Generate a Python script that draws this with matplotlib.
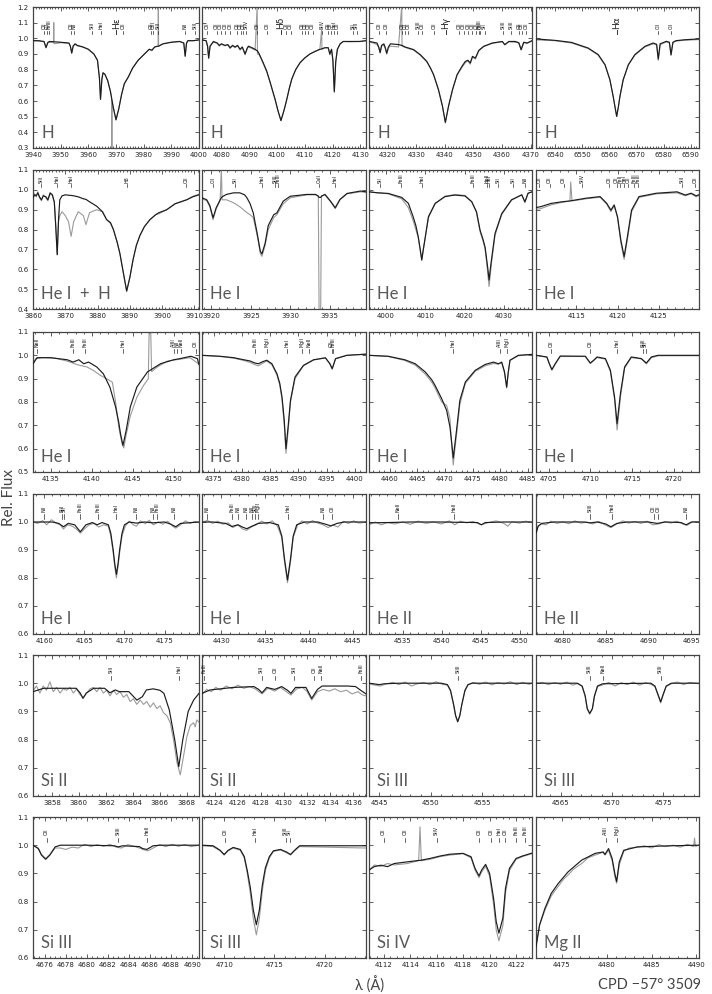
import matplotlib
matplotlib.use('Agg')
import matplotlib.pyplot as plt
from matplotlib.ticker import MultipleLocator, AutoMinorLocator

# ---------------- data ----------------
# row 1 : Balmer lines
p11_wl = [3940, 3942, 3944, 3944.7, 3945.4, 3946, 3947.4, 3947.5, 3947.6, 3950, 3953, 3953.5, 3954.0, 3954.5,
          3955.2, 3956, 3958, 3960, 3962, 3963.3, 3964.0, 3964.4, 3964.9, 3965.3, 3966, 3967, 3968, 3968.4,
          3968.5, 3968.6, 3969, 3970, 3971, 3972, 3973, 3974.5, 3976, 3978, 3980, 3982, 3983, 3983.5, 3984,
          3985.2, 3985.3, 3985.4, 3987, 3990, 3993, 3994.5, 3995.0, 3995.5, 3996, 3998, 4000]
p11_mod = [0.985, 0.985, 0.98, 0.94, 0.975, 0.98, 0.978, 0.978, 0.978, 0.975, 0.97, 0.95, 0.905, 0.95,
           0.965, 0.955, 0.945, 0.93, 0.90, 0.86, 0.75, 0.61, 0.74, 0.78, 0.77, 0.73, 0.66, 0.62,
           0.61, 0.60, 0.56, 0.48, 0.55, 0.64, 0.71, 0.755, 0.81, 0.86, 0.895, 0.93, 0.925, 0.935, 0.945,
           0.95, 0.95, 0.95, 0.965, 0.975, 0.98, 0.97, 0.885, 0.97, 0.985, 0.985, 0.99]
p11_obs = [0.985, 0.983, 0.978, 0.945, 0.972, 0.975, 0.975, 1.10, 0.965, 0.972, 0.968, 0.95, 0.91, 0.95,
           0.962, 0.952, 0.945, 0.93, 0.90, 0.86, 0.75, 0.615, 0.74, 0.78, 0.77, 0.73, 0.66, 0.62,
           0.29, 0.60, 0.56, 0.48, 0.55, 0.64, 0.71, 0.755, 0.81, 0.86, 0.895, 0.93, 0.92, 0.935, 0.945,
           0.95, 1.21, 0.95, 0.965, 0.975, 0.98, 0.97, 0.89, 0.97, 0.985, 0.985, 0.99]
p11_lines = [(3944.0, 'OII'), (3945.0, 'CII'), (3945.8, 'FeIII'), (3953.8, 'OII'), (3954.7, 'NII'),
             (3961.5, 'SiII'), (3964.7, 'HeI'), (3972.7, 'OII'), (3982.7, 'OII'), (3983.5, 'OIII'),
             (3985.3, 'SiII'), (3995.0, 'NII'), (3998.6, 'SiII')]
p11_balmer = (3970.07, 'Hε')

p12_wl = [4073, 4074.5, 4075.0, 4075.4, 4075.9, 4077.1, 4078.5, 4079.2, 4080, 4081.3, 4082.3, 4083.1, 4084,
          4084.9, 4085.8, 4086.7, 4087.5, 4088.5, 4089.2, 4089.7, 4091, 4092.1, 4092.85, 4092.95, 4093.6,
          4095, 4096.3, 4097.5, 4098.4, 4099.3, 4100.3, 4101.4, 4102.5, 4103.5, 4104.4, 4105.3, 4106.7,
          4108.3, 4110, 4111.8, 4113.5, 4115.4, 4116.05, 4116.15, 4117.2, 4118.4, 4119.0, 4119.6, 4120.1,
          4120.6, 4121.1, 4121.7, 4122.7, 4123.8, 4126, 4129.8, 4132]
p12_mod = [0.99, 0.985, 0.95, 0.875, 0.95, 0.98, 0.97, 0.955, 0.965, 0.955, 0.96, 0.94, 0.955,
           0.945, 0.955, 0.93, 0.945, 0.9, 0.935, 0.95, 0.94, 0.93, 0.92, 0.92, 0.9,
           0.845, 0.79, 0.72, 0.665, 0.61, 0.54, 0.475, 0.54, 0.61, 0.68, 0.74, 0.8,
           0.845, 0.875, 0.9, 0.915, 0.93, 0.932, 0.933, 0.94, 0.94, 0.9, 0.93, 0.86,
           0.66, 0.85, 0.93, 0.965, 0.98, 0.98, 0.98, 0.985]
p12_obs = [0.99, 0.983, 0.95, 0.87, 0.95, 0.975, 0.968, 0.95, 0.962, 0.952, 0.958, 0.935, 0.952,
           0.94, 0.952, 0.925, 0.94, 0.895, 0.93, 0.945, 0.935, 0.925, 1.21, 0.90, 0.895,
           0.84, 0.785, 0.72, 0.665, 0.61, 0.54, 0.475, 0.54, 0.61, 0.68, 0.74, 0.8,
           0.845, 0.875, 0.9, 0.915, 0.93, 1.06, 0.93, 0.94, 0.94, 0.895, 0.93, 0.855,
           0.655, 0.845, 0.93, 0.965, 0.98, 0.978, 0.98, 0.985]
p12_lines = [(4074.9, 'OII'), (4078.3, 'OII'), (4079.7, 'OII'), (4081.3, 'OII'), (4083.1, 'OII'),
             (4085.7, 'OII'), (4086.9, 'OII'), (4087.9, 'OII'), (4088.9, 'SiIV'), (4092.9, 'OII'),
             (4096.3, 'OII'), (4103.2, 'OII'), (4104.9, 'OII'), (4108.9, 'OII'), (4110.1, 'OII'),
             (4111.2, 'OII'), (4112.8, 'OII'), (4116.1, 'SiIV'), (4118.4, 'OII'), (4119.3, 'OII'),
             (4120.6, 'HeI'), (4121.5, 'OII'), (4127.4, 'SII'), (4128.6, 'SiII')]
p12_balmer = (4101.4, 'Hδ')

p13_wl = [4313.5, 4315, 4316.3, 4316.9, 4317.4, 4317.9, 4318.7, 4319.2, 4319.7, 4320.3, 4321, 4323.8,
          4324.95, 4325.05, 4326.1, 4329.1, 4331.4, 4332.6, 4333.7, 4335, 4336.1, 4337.8, 4339.2, 4340.2,
          4341.3, 4342.7, 4344.3, 4346, 4347.2, 4348.1, 4348.9, 4349.7, 4350.7, 4351.9, 4353.6, 4356.6,
          4360.1, 4361.0, 4362.4, 4364.7, 4365.9, 4366.7, 4367.6, 4368.8, 4370.5]
p13_mod = [0.98, 0.975, 0.97, 0.945, 0.91, 0.955, 0.965, 0.94, 0.905, 0.945, 0.965, 0.96,
           0.955, 0.955, 0.945, 0.928, 0.896, 0.874, 0.853, 0.81, 0.768, 0.672, 0.566, 0.464,
           0.566, 0.672, 0.768, 0.821, 0.853, 0.86, 0.843, 0.885, 0.874, 0.923, 0.949, 0.97,
           0.98, 0.96, 0.98, 0.98, 0.97, 0.928, 0.975, 0.97, 0.985]
p13_obs = [0.978, 0.97, 0.96, 0.94, 0.905, 0.95, 0.955, 0.935, 0.9, 0.94, 0.95, 0.945,
           1.21, 0.95, 0.942, 0.925, 0.893, 0.87, 0.85, 0.81, 0.765, 0.67, 0.565, 0.46,
           0.566, 0.672, 0.765, 0.815, 0.845, 0.855, 0.835, 0.88, 0.868, 0.92, 0.947, 0.968,
           0.978, 0.958, 0.978, 0.975, 0.975, 0.925, 0.972, 0.968, 0.983]
p13_lines = [(4317.1, 'OII'), (4319.6, 'OII'), (4325.0, 'OII'), (4326.1, 'CII'), (4327.3, 'OII'),
             (4330.8, 'SiIII'), (4332.0, 'OII'), (4336.4, 'OII'), (4345.1, 'OII'), (4346.6, 'OII'),
             (4348.1, 'OII'), (4349.5, 'OII'), (4350.9, 'OII'), (4351.9, 'FeIII'), (4352.4, 'OII'),
             (4353.9, 'SII'), (4360.3, 'SiIII'), (4363.2, 'SiIII'), (4365.9, 'OII'), (4366.9, 'OII'),
             (4368.5, 'OII')]
p13_balmer = (4340.3, 'Hγ')

p14_wl = [6533, 6540, 6546.1, 6552.2, 6555.9, 6558.4, 6560.2, 6561.4, 6562.1, 6562.7, 6563.3, 6563.9,
          6565.1, 6567, 6569.4, 6573.1, 6576.1, 6577.4, 6578.0, 6578.7, 6581, 6582.1, 6582.7, 6583.4,
          6584.5, 6587.8, 6593]
p14_mod = [0.996, 0.987, 0.974, 0.938, 0.896, 0.832, 0.736, 0.63, 0.56, 0.502, 0.56, 0.63,
           0.736, 0.832, 0.896, 0.949, 0.97, 0.962, 0.868, 0.965, 0.981, 0.975, 0.896, 0.975,
           0.985, 0.991, 0.996]
p14_obs = [0.99, 0.985, 0.97, 0.935, 0.893, 0.83, 0.735, 0.63, 0.56, 0.5, 0.56, 0.63,
           0.735, 0.83, 0.893, 0.945, 0.965, 0.958, 0.86, 0.96, 0.977, 0.97, 0.89, 0.972,
           0.982, 0.988, 0.992]
p14_lines = [(6578.05, 'CII'), (6582.8, 'CII')]
p14_balmer = (6562.7, 'Hα')

# row 2
p21_wl = [3860, 3860.5, 3861, 3861.5, 3862, 3862.6, 3863.2, 3864, 3864.6, 3865.3, 3866, 3866.6, 3867.0,
          3867.5, 3867.9, 3868.3, 3869, 3870, 3871, 3871.8, 3872.6, 3874, 3875.6, 3876.4, 3877.5, 3879.7,
          3881.5, 3882.8, 3884, 3884.9, 3886, 3886.9, 3888, 3889.0, 3890, 3891, 3892, 3893.1, 3894.5,
          3896.2, 3898, 3899, 3901.4, 3904, 3907.6, 3909.5, 3911.4]
p21_mod = [0.96, 0.975, 0.97, 0.985, 0.965, 0.95, 0.97, 0.965, 0.95, 0.985, 0.975, 0.94, 0.83,
           0.673, 0.85, 0.95, 0.97, 0.975, 0.973, 0.972, 0.97, 0.965, 0.955, 0.952, 0.94, 0.918,
           0.89, 0.85, 0.835, 0.80, 0.74, 0.68, 0.58, 0.49, 0.56, 0.65, 0.72, 0.77, 0.815,
           0.85, 0.875, 0.885, 0.9, 0.93, 0.95, 0.965, 0.975]
p21_obs = [0.955, 0.98, 0.965, 0.99, 0.96, 0.945, 0.975, 0.96, 0.945, 0.98, 0.97, 0.935, 0.83,
           0.675, 0.84, 0.87, 0.89, 0.87, 0.84, 0.766, 0.84, 0.89, 0.87, 0.825, 0.885, 0.9,
           0.89, 0.85, 0.83, 0.80, 0.74, 0.68, 0.58, 0.49, 0.56, 0.65, 0.72, 0.77, 0.815,
           0.85, 0.875, 0.88, 0.9, 0.93, 0.95, 0.968, 0.978]
p21_lines = [(3862.4, 'SiII'), (3867.5, 'HeI'), (3871.8, 'HeI'), (3889.05, 'H8'), (3907.5, 'OII')]

p22_wl = [3918.8, 3919.4, 3919.8, 3920.2, 3920.6, 3921.1, 3921.25, 3921.35, 3921.9, 3922.8, 3923.6, 3924.2,
          3924.5, 3924.9, 3925.3, 3925.8, 3926.2, 3926.4, 3926.8, 3927.2, 3927.9, 3928.3, 3929.1, 3930,
          3932.1, 3933.2, 3933.55, 3933.65, 3933.85, 3933.95, 3934.4, 3935.1, 3935.7, 3936.3, 3937.2,
          3938.9, 3939.6]
p22_mod = [0.96, 0.95, 0.92, 0.859, 0.91, 0.95, 0.96, 0.965, 0.977, 0.985, 0.985, 0.975,
           0.96, 0.93, 0.884, 0.78, 0.69, 0.678, 0.73, 0.82, 0.875, 0.884, 0.943, 0.968,
           0.977, 0.977, 0.968, 0.962, 0.962, 0.968, 0.977, 0.943, 0.91, 0.952, 0.982,
           0.994, 0.99]
p22_obs = [0.955, 0.945, 0.915, 0.85, 0.905, 0.945, 1.11, 0.95, 0.95, 0.935, 0.915, 0.895,
           0.885, 0.875, 0.86, 0.77, 0.68, 0.665, 0.72, 0.8, 0.86, 0.875, 0.93, 0.96,
           0.975, 0.975, 0.97, 0.38, 0.38, 0.97, 0.975, 0.94, 0.905, 0.95, 0.98,
           0.99, 0.988]
p22_lines = [(3920.2, 'CII'), (3923.0, 'SII'), (3926.4, 'HeI'), (3928.1, 'SiIII'), (3928.4, 'FeIII'),
             (3933.7, 'CaII'), (3935.7, 'HeI')]

p23_wl = [3995.7, 3998, 4000.6, 4004, 4005.7, 4006.9, 4007.6, 4008.2, 4008.7, 4009.1, 4009.5, 4009.9,
          4010.8, 4012.5, 4015, 4017.5, 4020.1, 4021.8, 4023, 4023.9, 4024.7, 4025.2, 4025.6, 4025.9,
          4026.2, 4026.5, 4026.8, 4027.7, 4029.4, 4031.9, 4034.5, 4035.3, 4036.1, 4037.1]
p23_mod = [0.99, 0.985, 0.982, 0.962, 0.932, 0.865, 0.82, 0.765, 0.7, 0.647, 0.7, 0.75,
           0.865, 0.932, 0.966, 0.974, 0.969, 0.94, 0.89, 0.798, 0.748, 0.71, 0.647, 0.6,
           0.546, 0.6, 0.647, 0.78, 0.88, 0.95, 0.975, 0.94, 0.983, 0.99]
p23_obs = [0.99, 0.985, 0.98, 0.955, 0.91, 0.845, 0.8, 0.76, 0.7, 0.645, 0.7, 0.75,
           0.86, 0.93, 0.968, 0.976, 0.972, 0.94, 0.885, 0.79, 0.74, 0.7, 0.63, 0.57,
           0.513, 0.57, 0.63, 0.77, 0.875, 0.948, 0.975, 0.935, 0.983, 0.99]
p23_lines = [(3998.5, 'SII'), (4003.9, 'FeIII'), (4009.1, 'HeI'), (4022.1, 'FeIII'), (4025.6, 'HeII'),
             (4026.2, 'HeI'), (4028.5, 'SII'), (4032.3, 'SII'), (4035.2, 'NII')]

p24_wl = [4109.6, 4110.7, 4112, 4113.3, 4114.25, 4114.35, 4114.5, 4116.2, 4117.9, 4118.7, 4119.2, 4119.6,
          4120.0, 4120.4, 4120.8, 4121.2, 4121.7, 4122.6, 4124.7, 4127.2, 4128.2, 4128.9, 4129.5, 4130.3]
p24_mod = [0.907, 0.915, 0.932, 0.94, 0.944, 0.945, 0.946, 0.958, 0.966, 0.932, 0.898, 0.924,
           0.865, 0.748, 0.664, 0.765, 0.898, 0.966, 0.983, 0.99, 0.974, 0.983, 0.97, 0.983]
p24_obs = [0.9, 0.905, 0.925, 0.937, 0.944, 1.04, 0.944, 0.955, 0.963, 0.928, 0.89, 0.92,
           0.86, 0.735, 0.65, 0.75, 0.89, 0.962, 0.98, 0.985, 0.97, 0.98, 0.965, 0.98]
p24_lines = [(4110.5, 'OII'), (4111.8, 'OII'), (4113.5, 'OII'), (4115.7, 'SiIV'),
             (4119.0, 'OII'), (4119.9, 'OII'), (4120.3, 'FeII'), (4120.8, 'HeI'), (4121.3, 'OII'),
             (4122.0, 'FeIII'), (4122.5, 'FeIII'), (4127.8, 'SiII'), (4129.4, 'OII')]

# row 3
p31_wl = [4132.8, 4133.3, 4134.9, 4137, 4137.7, 4138.4, 4139, 4139.6, 4140.6, 4141.4, 4142.2, 4142.9,
          4143.3, 4143.5, 4143.8, 4144.2, 4144.7, 4145.5, 4146.8, 4148.4, 4150, 4150.8, 4152.1, 4152.9,
          4153.1]
p31_mod = [0.964, 0.99, 0.99, 0.981, 0.971, 0.981, 0.964, 0.971, 0.95, 0.921, 0.864, 0.779,
           0.71, 0.664, 0.614, 0.679, 0.779, 0.864, 0.929, 0.964, 0.981, 0.986, 0.996, 0.986,
           0.96]
p31_obs_wl = [4132.8, 4133.1, 4134, 4135.5, 4137, 4138.2, 4139.4, 4140.2, 4141.0, 4141.8, 4142.5,
              4142.9, 4143.3, 4143.7, 4143.9, 4144.2, 4144.7, 4145.5, 4146.3, 4146.9, 4147.0, 4147.2,
              4147.3, 4148, 4149.2, 4150.5, 4152, 4153.1]
p31_obs = [0.96, 0.985, 0.99, 0.988, 0.975, 0.96, 0.95, 0.935, 0.915, 0.9, 0.885,
           0.8, 0.69, 0.62, 0.603, 0.66, 0.74, 0.82, 0.87, 0.9, 1.1, 1.1,
           0.93, 0.95, 0.975, 0.982, 0.99, 0.962]
p31_lines = [(4133.3, 'NeII'), (4137.7, 'FeIII'), (4139.2, 'FeIII'), (4143.76, 'HeI'), (4150.0, 'AlIII'),
             (4150.4, 'NII'), (4150.9, 'NeII'), (4152.7, 'OII')]

p32_wl = [4372.9, 4376.1, 4378.5, 4380.3, 4381.4, 4382.3, 4382.9, 4383.8, 4384.4, 4385.3, 4386.2, 4386.7,
          4387.1, 4387.5, 4387.8, 4388.2, 4388.6, 4389.4, 4390.9, 4392.7, 4394.8, 4395.6, 4396.0, 4396.6,
          4398.6, 4402]
p32_mod = [1.0, 0.996, 0.99, 0.981, 0.976, 0.967, 0.964, 0.974, 0.979, 0.964, 0.921, 0.88,
           0.821, 0.72, 0.6, 0.7, 0.807, 0.907, 0.957, 0.981, 0.989, 0.964, 0.943, 0.986,
           1.0, 1.005]
p32_obs = [1.0, 0.995, 0.988, 0.978, 0.97, 0.96, 0.955, 0.968, 0.975, 0.96, 0.915, 0.872,
           0.81, 0.7, 0.58, 0.68, 0.8, 0.9, 0.955, 0.98, 0.99, 0.962, 0.94, 0.985,
           1.0, 1.005]
p32_lines = [(4382.3, 'FeIII'), (4384.5, 'MgII'), (4387.9, 'HeI'), (4390.6, 'MgII'), (4391.9, 'NeII'),
             (4395.9, 'OII'), (4396.1, 'FeIII')]

p33_wl = [4456.2, 4459.7, 4462.7, 4464.6, 4466.4, 4467.6, 4468.2, 4469.4, 4470.3, 4470.9, 4471.2, 4471.5,
          4471.8, 4472.1, 4472.7, 4473.7, 4475.5, 4477.3, 4478.8, 4479.7, 4480.3, 4480.8, 4481.2, 4481.5,
          4481.8, 4483.3, 4485.8]
p33_mod = [1.0, 0.996, 0.981, 0.964, 0.929, 0.895, 0.871, 0.814, 0.764, 0.693, 0.63, 0.56,
           0.62, 0.679, 0.807, 0.886, 0.936, 0.961, 0.971, 0.964, 0.971, 0.93, 0.864, 0.93,
           0.979, 1.0, 1.004]
p33_obs = [1.0, 0.995, 0.978, 0.958, 0.92, 0.885, 0.86, 0.8, 0.785, 0.73, 0.62, 0.53,
           0.6, 0.66, 0.79, 0.88, 0.932, 0.955, 0.965, 0.962, 0.968, 0.925, 0.86, 0.925,
           0.978, 0.998, 1.004]
p33_lines = [(4471.4, 'HeI'), (4479.9, 'AlIII'), (4481.2, 'MgII')]

p34_wl = [4703.5, 4704.8, 4705.1, 4705.4, 4705.8, 4706.4, 4709.4, 4710.0, 4710.4, 4710.8, 4711.8, 4712.4,
          4712.9, 4713.2, 4713.6, 4714.1, 4714.9, 4716.1, 4716.7, 4717.3, 4718.1, 4723]
p34_mod = [1.0, 0.993, 0.964, 0.939, 0.964, 0.997, 0.996, 0.967, 0.979, 0.993, 0.986, 0.936,
           0.821, 0.707, 0.836, 0.95, 0.993, 0.986, 0.967, 0.993, 1.0, 1.0]
p34_obs = [1.0, 0.992, 0.962, 0.936, 0.962, 0.995, 0.995, 0.965, 0.977, 0.99, 0.984, 0.93,
           0.81, 0.68, 0.82, 0.945, 0.99, 0.985, 0.963, 0.99, 0.998, 0.998]
p34_lines = [(4705.35, 'OII'), (4710.0, 'OII'), (4713.2, 'HeI'), (4716.3, 'SiIII'), (4716.6, 'SII')]

# row 4
p41_wl = [4158.6, 4161, 4161.8, 4162.4, 4163, 4163.8, 4164.5, 4165.2, 4166, 4166.6, 4167.2, 4168, 4168.3,
          4168.6, 4168.8, 4169.0, 4169.2, 4169.4, 4169.7, 4170, 4170.6, 4171.5, 4172.5, 4173.6, 4175,
          4175.8, 4176.4, 4177, 4179.3]
p41_mod = [1.0, 1.0, 0.995, 0.983, 0.995, 0.99, 0.965, 0.99, 0.998, 0.99, 0.998, 0.99, 0.96,
           0.9, 0.85, 0.813, 0.85, 0.9, 0.96, 0.99, 1.0, 0.996, 1.0, 0.997, 1.0,
           0.992, 0.983, 0.995, 1.0]
p41_obs_wl = [4158.6, 4159.2, 4159.8, 4160.3, 4160.9, 4161.5, 4162, 4162.4, 4162.9, 4163.5, 4164, 4164.5,
              4165, 4165.6, 4166.2, 4166.8, 4167.4, 4168, 4168.3, 4168.6, 4168.8, 4169.0, 4169.2, 4169.4,
              4169.7, 4170.1, 4170.6, 4171.1, 4171.5, 4172, 4172.6, 4173.1, 4173.6, 4174.2, 4174.8,
              4175.4, 4176, 4176.4, 4177, 4177.6, 4178.2, 4178.8, 4179.3]
p41_obs = [1.0, 0.995, 1.005, 0.99, 1.008, 0.996, 0.99, 0.975, 0.99, 0.985, 0.975, 0.96,
           0.975, 0.99, 0.995, 0.982, 0.99, 0.985, 0.95, 0.89, 0.84, 0.80, 0.84, 0.89,
           0.95, 0.985, 1.003, 0.99, 0.985, 1.004, 0.994, 1.006, 0.99, 1.0, 0.992,
           1.003, 0.985, 0.978, 0.99, 1.004, 0.995, 1.002, 0.998]
p41_lines = [(4160.0, 'NII'), (4162.2, 'SiII'), (4162.5, 'SII'), (4164.5, 'FeIII'), (4166.7, 'FeIII'),
             (4169.0, 'HeI'), (4171.5, 'NII'), (4173.6, 'NII'), (4174.1, 'FeIII'), (4176.2, 'NII')]

p42_wl = [4427.8, 4429, 4430.5, 4431.2, 4431.9, 4432.4, 4432.9, 4433.5, 4434.2, 4435.5, 4436.5, 4436.9,
          4437.2, 4437.55, 4437.9, 4438.2, 4438.6, 4439.5, 4441, 4441.8, 4442.5, 4443.2, 4444, 4446.5]
p42_mod = [1.0, 1.0, 0.995, 0.984, 0.99, 0.982, 0.976, 0.985, 0.995, 0.998, 0.99, 0.95,
           0.87, 0.793, 0.87, 0.95, 0.99, 1.0, 1.0, 0.993, 0.986, 0.995, 1.0, 1.0]
p42_obs_wl = [4427.8, 4428.4, 4429, 4429.6, 4430.2, 4430.8, 4431.3, 4431.9, 4432.4, 4432.9, 4433.4, 4434,
              4434.6, 4435.2, 4435.8, 4436.4, 4436.9, 4437.2, 4437.55, 4437.9, 4438.2, 4438.7, 4439.2,
              4439.8, 4440.4, 4441, 4441.6, 4442.2, 4442.7, 4443.3, 4443.9, 4444.5, 4445.1, 4445.7, 4446.5]
p42_obs = [0.998, 1.006, 0.995, 1.003, 0.992, 0.997, 0.98, 0.99, 0.975, 0.97, 0.982, 0.99,
           1.003, 0.993, 1.004, 0.985, 0.945, 0.86, 0.783, 0.86, 0.945, 0.99, 1.004,
           0.993, 1.005, 0.996, 0.99, 0.98, 0.99, 0.982, 1.002, 0.995, 1.004, 0.996, 1.0]
p42_lines = [(4428.4, 'NII'), (4431.2, 'FeIII'), (4431.9, 'NII'), (4432.8, 'NII'), (4433.5, 'NII'),
             (4433.9, 'SiIII'), (4434.2, 'MgII'), (4437.55, 'HeI'), (4441.6, 'NII'), (4442.6, 'OII')]

p43_wl = [4530.7, 4533, 4536, 4540, 4542, 4544.6, 4545.1, 4545.6, 4548, 4551.6]
p43_mod = [0.997, 0.998, 1.0, 1.0, 0.999, 0.998, 0.99, 0.998, 1.0, 1.0]
p43_obs_wl = [4530.7, 4531.5, 4532.3, 4533, 4534, 4535, 4536, 4537, 4538, 4539, 4540, 4541, 4541.7,
              4542.4, 4543.2, 4544, 4545.1, 4546, 4547, 4548, 4548.5, 4549, 4550, 4550.8, 4551.6]
p43_obs = [0.99, 1.0, 0.99, 0.998, 0.993, 1.0, 0.992, 1.003, 0.995, 1.0, 0.993, 1.004, 0.99,
           1.003, 0.997, 1.002, 0.99, 0.998, 1.004, 0.995, 0.985, 1.0, 0.996, 1.003, 0.998]
p43_lines = [(4534.4, 'NeII'), (4541.6, 'HeII')]

p44_wl = [4676.85, 4677.1, 4677.5, 4679, 4682.5, 4683.2, 4684, 4685, 4685.6, 4686.3, 4687.5, 4690,
          4691, 4692, 4693.8, 4694.4, 4695, 4695.9]
p44_mod = [0.96, 0.985, 0.995, 1.0, 1.0, 0.997, 1.0, 0.993, 0.983, 0.995, 1.0, 1.0,
           0.995, 1.0, 0.998, 0.99, 1.0, 1.0]
p44_obs_wl = [4676.85, 4677.1, 4677.5, 4678, 4678.6, 4679.3, 4680, 4680.7, 4681.4, 4682.1, 4682.8,
              4683.5, 4684.2, 4684.9, 4685.6, 4686.3, 4687, 4687.7, 4688.4, 4689.1, 4689.8, 4690.5,
              4691.2, 4691.9, 4692.6, 4693.3, 4694, 4694.5, 4695.2, 4695.9]
p44_obs = [0.958, 0.985, 0.993, 0.99, 1.003, 0.995, 1.0, 0.994, 1.004, 0.996, 0.999,
           0.993, 1.002, 0.99, 0.98, 0.993, 1.004, 0.996, 1.002, 0.995, 1.003, 0.99,
           0.993, 1.002, 0.996, 1.003, 0.993, 0.988, 1.001, 1.0]
p44_lines = [(4683.2, 'SiIII'), (4685.7, 'HeII'), (4690.6, 'OII'), (4691.1, 'OII'), (4694.4, 'NII')]

# row 5
p51_wl = [3856.6, 3857.4, 3859.8, 3860.1, 3860.3, 3860.55, 3861.1, 3861.9, 3862.3, 3862.7, 3863.0, 3863.7,
          3864.3, 3864.7, 3865.0, 3865.5, 3866.0, 3866.3, 3866.7, 3867.1, 3867.4, 3867.7, 3868.1, 3868.5,
          3868.9]
p51_mod = [0.97, 0.982, 0.982, 0.965, 0.946, 0.965, 0.982, 0.982, 0.966, 0.976, 0.97, 0.97,
           0.94, 0.952, 0.976, 0.98, 0.975, 0.964, 0.905, 0.8, 0.704, 0.8, 0.9, 0.94,
           0.964]
p51_obs_wl = [3856.62, 3856.86, 3857.11, 3857.35, 3857.6, 3857.85, 3858.1, 3858.35, 3858.6, 3858.84,
              3859.09, 3859.34, 3859.59, 3859.83, 3860.08, 3860.33, 3860.58, 3860.82, 3861.07, 3861.32,
              3861.57, 3861.81, 3862.06, 3862.31, 3862.56, 3862.8, 3863.05, 3863.3, 3863.55, 3863.8,
              3864.04, 3864.29, 3864.54, 3864.79, 3865.03, 3865.28, 3865.53, 3865.78, 3866.02, 3866.27,
              3866.52, 3866.77, 3867.01, 3867.26, 3867.51, 3867.75, 3868.0, 3868.25, 3868.5, 3868.62,
              3868.74, 3868.94]
p51_obs = [0.975, 0.99, 0.965, 0.99, 0.975, 1.005, 0.97, 0.985, 0.965, 0.98,
           0.975, 0.985, 0.965, 0.98, 0.96, 0.95, 0.965, 0.98, 0.985, 0.97,
           0.985, 0.965, 0.975, 0.955, 0.975, 0.96, 0.97, 0.95, 0.96, 0.935,
           0.945, 0.925, 0.94, 0.925, 0.935, 0.915, 0.93, 0.91, 0.92, 0.895,
           0.885, 0.86, 0.8, 0.72, 0.675, 0.74, 0.81, 0.85, 0.86, 0.845,
           0.87, 0.86]
p51_lines = [(3862.4, 'SiII'), (3867.4, 'HeI')]

p52_wl = [4122.9, 4123.6, 4125.6, 4127.4, 4127.8, 4128.1, 4128.5, 4129.2, 4129.8, 4130.3, 4130.6, 4131.0,
          4131.9, 4132.4, 4132.9, 4133.3, 4135.5, 4136.2, 4136.6, 4137.1]
p52_mod = [0.964, 0.976, 0.985, 0.988, 0.978, 0.966, 0.985, 0.978, 0.988, 0.975, 0.964, 0.985,
           0.985, 0.946, 0.978, 0.99, 0.99, 0.988, 0.976, 0.962]
p52_obs_wl = [4122.9, 4123.3, 4123.7, 4124.1, 4124.5, 4125, 4125.5, 4126, 4126.5, 4127, 4127.5, 4128.1,
              4128.6, 4129.2, 4129.7, 4130.2, 4130.6, 4131.1, 4131.6, 4132, 4132.4, 4132.9, 4133.4,
              4133.9, 4134.4, 4134.9, 4135.4, 4135.9, 4136.4, 4136.8, 4137.1]
p52_obs = [0.96, 0.978, 0.97, 0.985, 0.975, 0.99, 0.98, 0.993, 0.982, 0.988, 0.98, 0.962,
           0.982, 0.972, 0.985, 0.97, 0.958, 0.98, 0.985, 0.97, 0.94, 0.97, 0.978,
           0.972, 0.98, 0.97, 0.975, 0.962, 0.97, 0.958, 0.955]
p52_lines = [(4123.1, 'FeIII'), (4128.07, 'SiII'), (4129.2, 'OII'), (4130.9, 'SiII'), (4132.6, 'OII'),
             (4133.2, 'NeII'), (4136.7, 'FeIII')]

p53_wl = [4544, 4545, 4545.5, 4547, 4551, 4551.6, 4551.9, 4552.2, 4552.4, 4552.6, 4552.8, 4553.0, 4553.3,
          4553.6, 4554, 4559.8]
p53_mod = [1.0, 0.995, 0.998, 1.0, 1.0, 0.995, 0.975, 0.925, 0.885, 0.864, 0.885, 0.925, 0.975,
           0.995, 1.0, 1.0]
p53_obs_wl = [4544, 4544.6, 4545.1, 4545.7, 4546.3, 4546.9, 4547.5, 4548.1, 4548.7, 4549.3, 4549.9, 4550.5,
              4551.1, 4551.6, 4551.9, 4552.2, 4552.4, 4552.6, 4552.8, 4553.0, 4553.3, 4553.6, 4554.1,
              4554.7, 4555.3, 4555.9, 4556.5, 4557.1, 4557.7, 4558.3, 4558.9, 4559.5, 4559.8]
p53_obs = [0.998, 0.993, 0.99, 0.998, 1.003, 0.995, 1.004, 0.99, 0.998, 1.002, 0.995, 1.005,
           0.996, 0.993, 0.972, 0.922, 0.882, 0.862, 0.884, 0.924, 0.972, 0.994, 1.003,
           0.996, 1.004, 0.994, 1.002, 0.997, 1.005, 0.995, 1.003, 0.996, 1.0]
p53_lines = [(4552.62, 'SiIII')]

p54_wl = [4562.6, 4566.6, 4567.1, 4567.4, 4567.6, 4567.84, 4568.1, 4568.3, 4568.6, 4569.1, 4573.8, 4574.2,
          4574.5, 4574.76, 4575.0, 4575.3, 4575.8, 4578.5]
p54_mod = [1.0, 1.0, 0.99, 0.955, 0.91, 0.893, 0.91, 0.955, 0.99, 0.998, 1.0, 0.99,
           0.96, 0.934, 0.96, 0.99, 1.0, 1.0]
p54_obs_wl = [4562.6, 4563.2, 4563.8, 4564.4, 4565, 4565.6, 4566.2, 4566.7, 4567.1, 4567.4, 4567.6,
              4567.84, 4568.1, 4568.3, 4568.6, 4569.1, 4569.7, 4570.3, 4570.9, 4571.5, 4572.1, 4572.7,
              4573.3, 4573.8, 4574.2, 4574.5, 4574.76, 4575.0, 4575.3, 4575.8, 4576.4, 4577, 4577.6, 4578.5]
p54_obs = [0.998, 1.003, 0.995, 1.002, 0.996, 1.004, 0.993, 1.0, 0.988, 0.952, 0.908,
           0.89, 0.908, 0.952, 0.988, 0.994, 1.003, 0.99, 1.002, 0.995, 1.004, 0.993,
           1.002, 0.996, 0.988, 0.957, 0.93, 0.957, 0.988, 0.998, 1.004, 0.995, 1.003, 0.998]
p54_lines = [(4567.84, 'SiIII'), (4569.1, 'NeII'), (4574.76, 'SiIII')]

# row 6
p61_wl = [4674.9, 4675.4, 4675.7, 4676.1, 4676.5, 4677.0, 4677.5, 4680, 4682.6, 4683.0, 4683.4, 4685.0,
          4685.3, 4685.7, 4686.3, 4687, 4690.65]
p61_mod = [1.0, 0.988, 0.965, 0.95, 0.965, 0.994, 1.0, 1.0, 0.998, 0.994, 0.998, 0.995,
           0.988, 0.985, 0.998, 1.0, 1.0]
p61_obs_wl = [4674.9, 4675.4, 4675.7, 4676.1, 4676.5, 4677.0, 4677.5, 4678, 4678.6, 4679.2, 4679.8,
              4680.4, 4681, 4681.6, 4682.2, 4682.8, 4683.3, 4683.9, 4684.5, 4685.0, 4685.4, 4685.8,
              4686.3, 4686.9, 4687.5, 4688.1, 4688.7, 4689.3, 4689.9, 4690.65]
p61_obs = [1.0, 0.99, 0.968, 0.953, 0.967, 0.99, 0.99, 0.985, 0.993, 0.99, 1.003,
           0.995, 1.002, 0.996, 1.003, 0.993, 0.99, 1.002, 0.996, 0.99, 0.984, 0.98,
           0.99, 1.002, 0.995, 1.003, 0.996, 1.002, 0.995, 1.0]
p61_lines = [(4676.2, 'OII'), (4683.0, 'SiIII'), (4685.7, 'HeII')]

p62_wl = [4707.8, 4708.9, 4709.6, 4710.0, 4710.4, 4710.9, 4711.6, 4712.0, 4712.3, 4712.6, 4712.9, 4713.2,
          4713.5, 4713.8, 4714.1, 4714.5, 4714.9, 4715.6, 4716.2, 4716.6, 4717.0, 4717.5, 4724.1]
p62_mod = [1.0, 0.998, 0.982, 0.967, 0.982, 0.992, 0.985, 0.96, 0.91, 0.85, 0.77, 0.718,
           0.77, 0.86, 0.92, 0.96, 0.98, 0.985, 0.976, 0.967, 0.982, 0.998, 0.998]
p62_obs = [0.998, 0.995, 0.98, 0.965, 0.98, 0.99, 0.982, 0.955, 0.9, 0.83, 0.74, 0.682,
           0.74, 0.84, 0.91, 0.955, 0.978, 0.983, 0.973, 0.965, 0.98, 0.995, 0.99]
p62_lines = [(4710.1, 'OII'), (4713.1, 'HeI'), (4716.1, 'SiIII'), (4716.5, 'SII')]

p63_wl = [4110.9, 4111.3, 4111.8, 4112.3, 4112.8, 4113.8, 4114.65, 4114.75, 4114.85, 4115.5, 4116.3, 4117,
          4118, 4118.6, 4118.9, 4119.2, 4119.4, 4119.7, 4120.0, 4120.3, 4120.5, 4120.7, 4121.0, 4121.2,
          4121.5, 4122, 4122.5, 4123.2]
p63_mod = [0.912, 0.924, 0.929, 0.924, 0.935, 0.941, 0.946, 0.946, 0.947, 0.953, 0.962, 0.968,
           0.971, 0.959, 0.918, 0.891, 0.912, 0.932, 0.9, 0.812, 0.729, 0.688, 0.741, 0.847,
           0.918, 0.953, 0.962, 0.972]
p63_obs = [0.91, 0.93, 0.925, 0.935, 0.93, 0.935, 0.945, 1.065, 0.945, 0.95, 0.96, 0.965,
           0.97, 0.955, 0.912, 0.885, 0.905, 0.925, 0.89, 0.79, 0.7, 0.661, 0.715, 0.83,
           0.91, 0.95, 0.96, 0.97]
p63_lines = [(4112.0, 'OII'), (4113.6, 'OII'), (4116.0, 'SiIV'), (4119.2, 'OII'), (4120.1, 'OII'),
             (4120.7, 'HeI'), (4121.2, 'OII'), (4122.0, 'FeIII'), (4122.7, 'FeIII')]

p64_wl = [4472.1, 4472.2, 4472.5, 4473.1, 4473.8, 4474.6, 4475.7, 4477.2, 4478.7, 4479.6, 4479.8, 4480.2,
          4480.6, 4480.9, 4481.1, 4481.4, 4481.9, 4483.4, 4487.2, 4490.3]
p64_mod = [0.64, 0.659, 0.718, 0.776, 0.829, 0.865, 0.906, 0.947, 0.971, 0.976, 0.967, 0.988,
           0.953, 0.9, 0.871, 0.941, 0.982, 0.994, 0.998, 1.0]
p64_obs_wl = [4472.1, 4472.2, 4472.5, 4473.1, 4473.8, 4474.6, 4475.2, 4475.7, 4476.3, 4477.2, 4477.9,
              4478.7, 4479.6, 4479.8, 4480.2, 4480.6, 4480.9, 4481.1, 4481.4, 4481.9, 4482.5, 4483.4,
              4484.2, 4485, 4485.8, 4486.6, 4487.4, 4488.2, 4489, 4489.7, 4489.8, 4489.9, 4490.3]
p64_obs = [0.645, 0.66, 0.715, 0.77, 0.82, 0.855, 0.88, 0.895, 0.915, 0.935, 0.955,
           0.965, 0.975, 0.965, 0.982, 0.945, 0.89, 0.865, 0.93, 0.978, 0.99, 0.992,
           0.998, 0.99, 1.002, 0.995, 1.0, 0.993, 1.003, 0.995, 1.025, 0.996, 1.0]
p64_lines = [(4479.9, 'AlIII'), (4481.2, 'MgII')]

# ---------------- layout ----------------
W, H = 712, 994
COLS = [(33, 199), (202, 366), (369, 532), (536, 699)]
ROWS = [(7, 148), (170, 309), (332, 472), (494, 634), (655, 796), (817, 958)]
YLIMS = [(0.3, 1.2), (0.4, 1.1), (0.5, 1.1), (0.6, 1.1), (0.6, 1.1), (0.6, 1.1)]
# where the identification marks sit (mark bottom, mark top, text bottom)
MARKS = [(1.030, 1.046, 1.062)] + [(1.012, 1.027, 1.035)] * 5

# (row, col, wl, model, obs_wl, obs, lines, balmer, xlim, major step, minor n, label)
PANELS = [
    (0, 0, p11_wl, p11_mod, p11_wl, p11_obs, p11_lines, p11_balmer, (3940, 4000), 10, 10, 'H'),
    (0, 1, p12_wl, p12_mod, p12_wl, p12_obs, p12_lines, p12_balmer, (4073, 4132), 10, 10, 'H'),
    (0, 2, p13_wl, p13_mod, p13_wl, p13_obs, p13_lines, p13_balmer, (4313.5, 4370.5), 10, 10, 'H'),
    (0, 3, p14_wl, p14_mod, p14_wl, p14_obs, p14_lines, p14_balmer, (6533, 6593), 10, 10, 'H'),
    (1, 0, p21_wl, p21_mod, p21_wl, p21_obs, p21_lines, None, (3860, 3911.4), 10, 10, 'He I  +  H'),
    (1, 1, p22_wl, p22_mod, p22_wl, p22_obs, p22_lines, None, (3918.8, 3939.6), 5, 5, 'He I'),
    (1, 2, p23_wl, p23_mod, p23_wl, p23_obs, p23_lines, None, (3995.7, 4037.1), 10, 10, 'He I'),
    (1, 3, p24_wl, p24_mod, p24_wl, p24_obs, p24_lines, None, (4110.15, 4129.85), 5, 5, 'He I'),
    (2, 0, p31_wl, p31_mod, p31_obs_wl, p31_obs, p31_lines, None, (4132.8, 4153.1), 5, 5, 'He I'),
    (2, 1, p32_wl, p32_mod, p32_wl, p32_obs, p32_lines, None, (4372.9, 4402), 5, 5, 'He I'),
    (2, 2, p33_wl, p33_mod, p33_wl, p33_obs, p33_lines, None, (4456.2, 4485.8), 5, 5, 'He I'),
    (2, 3, p34_wl, p34_mod, p34_wl, p34_obs, p34_lines, None, (4703.5, 4723), 5, 5, 'He I'),
    (3, 0, p41_wl, p41_mod, p41_obs_wl, p41_obs, p41_lines, None, (4158.6, 4179.3), 5, 5, 'He I'),
    (3, 1, p42_wl, p42_mod, p42_obs_wl, p42_obs, p42_lines, None, (4427.8, 4446.5), 5, 5, 'He I'),
    (3, 2, p43_wl, p43_mod, p43_obs_wl, p43_obs, p43_lines, None, (4530.7, 4551.6), 5, 5, 'He II'),
    (3, 3, p44_wl, p44_mod, p44_obs_wl, p44_obs, p44_lines, None, (4676.85, 4695.9), 5, 5, 'He II'),
    (4, 0, p51_wl, p51_mod, p51_obs_wl, p51_obs, p51_lines, None, (3856.6, 3868.9), 2, 4, 'Si II'),
    (4, 1, p52_wl, p52_mod, p52_obs_wl, p52_obs, p52_lines, None, (4122.9, 4137.1), 2, 4, 'Si II'),
    (4, 2, p53_wl, p53_mod, p53_obs_wl, p53_obs, p53_lines, None, (4544, 4559.8), 5, 5, 'Si III'),
    (4, 3, p54_wl, p54_mod, p54_obs_wl, p54_obs, p54_lines, None, (4562.6, 4578.5), 5, 5, 'Si III'),
    (5, 0, p61_wl, p61_mod, p61_obs_wl, p61_obs, p61_lines, None, (4674.9, 4690.65), 2, 4, 'Si III'),
    (5, 1, p62_wl, p62_mod, p62_wl, p62_obs, p62_lines, None, (4707.8, 4724.1), 5, 5, 'Si III'),
    (5, 2, p63_wl, p63_mod, p63_wl, p63_obs, p63_lines, None, (4110.9, 4123.2), 2, 4, 'Si IV'),
    (5, 3, p64_wl, p64_mod, p64_obs_wl, p64_obs, p64_lines, None, (4472.1, 4490.3), 5, 5, 'Mg II'),
]

FRAME = '#444444'
LIGHT = ['Lato', 'DejaVu Sans']
plt.rcParams['font.family'] = ['DejaVu Sans']

fig = plt.figure(figsize=(W / 100, H / 100), dpi=100)
fig.patch.set_facecolor('white')

for (r, c, wl, mod, owl, obs, lines, balmer, xlim, step, nminor, label) in PANELS:
    x0, x1 = COLS[c]
    y0, y1 = ROWS[r]
    ax = fig.add_axes([x0 / W, 1 - y1 / H, (x1 - x0) / W, (y1 - y0) / H])
    ax.plot(owl, obs, color='#9a9a9a', lw=0.8, zorder=2)
    ax.plot(wl, mod, color='#1c1c1c', lw=0.85, zorder=3)
    ax.set_xlim(*xlim)
    ax.set_ylim(*YLIMS[r])

    m0, m1, ty = MARKS[r]
    for lw_, name in lines:
        if xlim[0] <= lw_ <= xlim[1]:
            ax.plot([lw_, lw_], [m0, m1], color='#111111', lw=0.45, zorder=4)
            ax.text(lw_, ty, name, rotation=90, ha='center', va='bottom',
                    fontsize=3.4, color='#111111', zorder=4)
    if balmer is not None:
        bw, bname = balmer
        ax.plot([bw, bw], [m0 - 0.005, m1 + 0.005], color='#111111', lw=0.6, zorder=4)
        ax.text(bw, ty, bname, rotation=90, ha='center', va='bottom',
                fontsize=6.5, color='#222222', zorder=4)

    ax.text(0.05, 0.05, label, transform=ax.transAxes, ha='left', va='bottom',
            fontsize=12, color='#5a5a5a', family=LIGHT)

    ax.xaxis.set_major_locator(MultipleLocator(step))
    ax.xaxis.set_minor_locator(AutoMinorLocator(nminor))
    ax.yaxis.set_major_locator(MultipleLocator(0.1))
    ax.tick_params(which='both', direction='in', top=True, right=True, colors=FRAME,
                   labelcolor='#222222', labelsize=5, width=0.6)
    ax.tick_params(which='major', length=3, pad=3)
    ax.tick_params(which='minor', length=1.5)
    if c != 0:
        ax.tick_params(labelleft=False)
    else:
        ax.yaxis.set_major_formatter(plt.FuncFormatter(lambda v, p: f'{v:.1f}'))
    ax.xaxis.set_major_formatter(plt.FuncFormatter(lambda v, p: f'{v:.0f}'))
    for s in ax.spines.values():
        s.set_color(FRAME)
        s.set_linewidth(0.9)

fig.text(9 / W, 1 - 497 / H, 'Rel. Flux', rotation=90, ha='center', va='center',
         fontsize=11, color='#444444', family=LIGHT)
fig.text(370 / W, 1 - 985 / H, 'λ (Å)', ha='center', va='center', fontsize=10.5, color='#444444',
         family=LIGHT)
fig.text(650 / W, 1 - 985 / H, 'CPD −57° 3509', ha='center', va='center', fontsize=10.5, color='#444444',
         family=LIGHT)

fig.savefig('out.png', dpi=100, facecolor='white')
